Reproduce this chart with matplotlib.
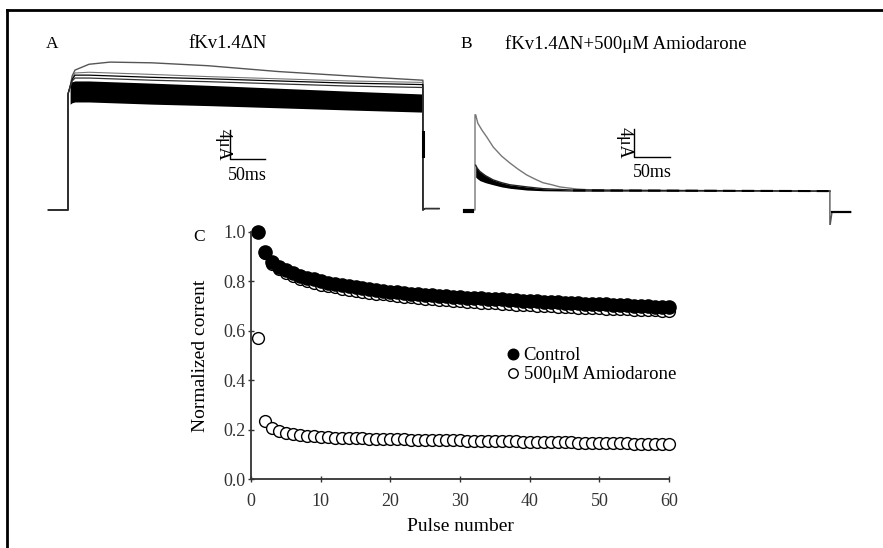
import matplotlib
matplotlib.use("Agg")
import matplotlib.pyplot as plt
from matplotlib.lines import Line2D

plt.rcParams['font.family'] = ['Liberation Serif', 'DejaVu Serif']
plt.rcParams['font.size'] = 13

# ---- panel A: fKv1.4dN current traces (ms, uA) ----
a_t = [-28, 0, 0, 3, 6, 10, 30, 60, 120, 200, 300, 400, 507, 507, 510, 530]
a_top = [0, 0, 16.0, 17.0, 18.5, 19.3, 20.1, 20.4, 20.3, 19.9, 19.1, 18.5, 17.9, 0, 0.2, 0.2]
a_mid0 = [0, 0, 16.0, 17.0, 18.2, 18.9, 19.0, 18.9, 18.7, 18.4, 18.1, 17.8, 17.6, 0, 0.2, 0.2]
a_mid1 = [0, 0, 16.0, 17.0, 18.0, 18.6, 18.6, 18.5, 18.3, 18.1, 17.8, 17.5, 17.3, 0, 0.2, 0.2]
a_mid2 = [0, 0, 16.0, 17.0, 17.8, 18.2, 18.2, 18.1, 17.9, 17.7, 17.4, 17.1, 16.9, 0, 0.2, 0.2]
a_band_t = [3, 6, 10, 30, 60, 120, 200, 300, 400, 507]
a_band_hi = [17.6, 17.7, 17.8, 17.8, 17.7, 17.5, 17.2, 16.8, 16.4, 16.0]
a_band_lo = [14.6, 14.8, 14.9, 14.9, 14.8, 14.6, 14.4, 14.1, 13.8, 13.5]

# ---- panel B: with 500 uM amiodarone ----
b_t = [-14, 0, 0, 1, 4, 10, 17, 26, 38, 50, 62, 74, 86, 97, 110, 121, 145, 169, 220, 300, 507]
b_first = [0, 0, 13.6, 13.6, 12.4, 11.4, 10.4, 9.0, 7.7, 6.7, 5.8, 5.0, 4.4, 3.9, 3.6, 3.3,
           3.0, 2.85, 2.75, 2.7, 2.7]
b_band_t = [1, 3, 7, 15, 26, 38, 50, 74, 97, 140, 507]
b_band_hi = [6.4, 6.0, 5.5, 4.9, 4.3, 3.9, 3.6, 3.3, 3.05, 2.85, 2.7]
b_band_lo = [4.7, 4.5, 4.2, 3.9, 3.6, 3.3, 3.1, 2.85, 2.75, 2.7, 2.65]
b_end_t = [507, 507, 510, 537]
b_end_i = [2.7, -2.4, -0.3, -0.3]

# ---- panel C: normalized current vs pulse number ----
pulses = list(range(1, 61))
control = [1.000, 0.920, 0.878, 0.860, 0.845, 0.833, 0.823, 0.815, 0.808, 0.800,
           0.795, 0.790, 0.785, 0.780, 0.776, 0.772, 0.768, 0.765, 0.762, 0.759,
           0.756, 0.753, 0.751, 0.748, 0.746, 0.744, 0.742, 0.740, 0.738, 0.736,
           0.734, 0.733, 0.731, 0.729, 0.728, 0.727, 0.725, 0.724, 0.722, 0.720,
           0.719, 0.718, 0.716, 0.715, 0.714, 0.713, 0.711, 0.710, 0.709, 0.708,
           0.707, 0.705, 0.704, 0.703, 0.702, 0.700, 0.699, 0.698, 0.697, 0.696]
amio_norm = [1.000, 0.915, 0.870, 0.850, 0.835, 0.822, 0.811, 0.802, 0.794, 0.787,
             0.781, 0.776, 0.771, 0.766, 0.762, 0.758, 0.754, 0.750, 0.747, 0.744,
             0.741, 0.738, 0.735, 0.732, 0.730, 0.728, 0.726, 0.724, 0.722, 0.720,
             0.718, 0.716, 0.714, 0.712, 0.711, 0.709, 0.708, 0.706, 0.705, 0.703,
             0.702, 0.701, 0.699, 0.698, 0.697, 0.696, 0.694, 0.693, 0.692, 0.691,
             0.690, 0.689, 0.688, 0.687, 0.686, 0.685, 0.684, 0.683, 0.682, 0.680]
amio = [0.570, 0.235, 0.205, 0.193, 0.186, 0.181, 0.178, 0.175, 0.173, 0.171,
        0.170, 0.168, 0.167, 0.166, 0.165, 0.164, 0.163, 0.162, 0.162, 0.161,
        0.160, 0.160, 0.159, 0.159, 0.158, 0.158, 0.157, 0.157, 0.156, 0.156,
        0.155, 0.155, 0.154, 0.154, 0.153, 0.153, 0.152, 0.152, 0.151, 0.151,
        0.150, 0.150, 0.149, 0.149, 0.148, 0.148, 0.147, 0.147, 0.146, 0.146,
        0.145, 0.145, 0.144, 0.144, 0.143, 0.143, 0.142, 0.142, 0.141, 0.141]

W, H = 883, 548
fig = plt.figure(figsize=(W / 100, H / 100), dpi=100)

def px_axes(x0, y0, x1, y1):
    # axes from pixel box (top-left origin)
    return fig.add_axes([x0 / W, 1 - y1 / H, (x1 - x0) / W, (y1 - y0) / H])

# frame of the figure
fig.add_artist(Line2D([7 / W, 1], [1 - 10 / H, 1 - 10 / H], color='black', lw=2))
fig.add_artist(Line2D([7 / W, 7 / W], [0, 1 - 10 / H], color='black', lw=2))

# panel A
axA = px_axes(40, 50, 445, 225)
ms_px, ua_px = 0.7, 7.25
axA.set_xlim(-28 / ms_px, (445 - 68) / ms_px)
axA.set_ylim(-15 / ua_px, 160 / ua_px)
axA.axis('off')
axA.plot(a_t, a_top, color='#555555', lw=1.0)
axA.fill_between(a_band_t, a_band_lo, a_band_hi, color='black', lw=0)
axA.plot(a_t, a_mid0, color='#777777', lw=0.8)
axA.plot(a_t, a_mid1, color='black', lw=0.9)
axA.plot(a_t, a_mid2, color='#333333', lw=0.9)
axA.plot([507, 507], [7.5, 10.8], color='black', lw=2.2)
axA.plot([231, 231, 281], [11.0, 7.0, 7.0], color='black', lw=1.0)
axA.text(222, 9.0, '4μA', rotation=270, ha='center', va='center', fontsize=13)
axA.text(256, 6.0, '50ms', ha='center', va='top', fontsize=13)

# panel B
axB = px_axes(455, 50, 870, 225)
ua_px_b = 7.0
axB.set_xlim(-20 / ms_px, 395 / ms_px)
axB.set_ylim(-15 / ua_px_b, 160 / ua_px_b)
axB.axis('off')
axB.plot(b_t, b_first, color='#777777', lw=1.0)
axB.fill_between(b_band_t, b_band_lo, b_band_hi, color='black', lw=0)
axB.plot(b_band_t, b_band_hi, color='#222222', lw=1.0)
axB.plot([140, 505], [2.8, 2.7], color='black', lw=1.5, dashes=(6, 3))
axB.plot(b_end_t, b_end_i, color='#555555', lw=1.0)
axB.plot([510, 535], [-0.3, -0.3], color='black', lw=1.6)
axB.plot([-14, -5], [-0.2, -0.2], color='black', lw=3)
axB.plot([227, 227, 279], [11.6, 7.6, 7.6], color='black', lw=1.0)
axB.text(213, 9.6, '4μA', rotation=270, ha='center', va='center', fontsize=13)
axB.text(253, 6.6, '50ms', ha='center', va='top', fontsize=13)

# panel titles
fig.text(46 / W, 1 - 44 / H, 'A', ha='left', va='center', fontsize=12.5)
fig.text(228 / W, 1 - 44 / H, 'fKv1.4ΔN', ha='center', va='center', fontsize=13.5)
fig.text(460 / W, 1 - 44 / H, 'B', ha='left', va='center', fontsize=12.5)
fig.text(505 / W, 1 - 44 / H, 'fKv1.4ΔN+500μM Amiodarone', ha='left', va='center', fontsize=13.5)
fig.text(199 / W, 1 - 237 / H, 'C', ha='center', va='center', fontsize=12.5)

# panel C
axC = px_axes(251, 232, 669, 479)
axC.plot(pulses, amio_norm, 'o', ms=8.5, mfc='white', mec='black', mew=1.0, clip_on=False)
axC.plot(pulses, control, 'o', ms=9.5, color='black', clip_on=False, label='Control')
axC.plot(pulses, amio, 'o', ms=8.5, mfc='white', mec='black', mew=1.0, clip_on=False,
         label='500μM Amiodarone')
axC.set_xlim(0, 60)
axC.set_ylim(0, 1.0)
axC.set_xticks(range(0, 61, 10))
axC.set_yticks([0.0, 0.2, 0.4, 0.6, 0.8, 1.0])
axC.set_yticklabels(['0.0', '0.2', '0.4', '0.6', '0.8', '1.0'])
for s in ['top', 'right']:
    axC.spines[s].set_visible(False)
for s in ['left', 'bottom']:
    axC.spines[s].set_linewidth(1.3)
    axC.spines[s].set_color('#333333')
axC.tick_params(direction='inout', length=4, width=1.0, labelsize=13, colors='#333333')
axC.tick_params(axis='x', pad=8)
axC.tick_params(axis='y', pad=2)
axC.set_xlabel('Pulse number', fontsize=14, labelpad=6)
axC.set_ylabel('Normalized corrent', fontsize=14, labelpad=10)
axC.legend(loc='upper left', bbox_to_anchor=((504 - 251) / 418, (479 - 347) / 247),
           frameon=False, handletextpad=0.05, handlelength=1.0, borderpad=0, labelspacing=0.1,
           borderaxespad=0, fontsize=13.5, markerscale=0.8)

fig.savefig('out.png', dpi=100)
